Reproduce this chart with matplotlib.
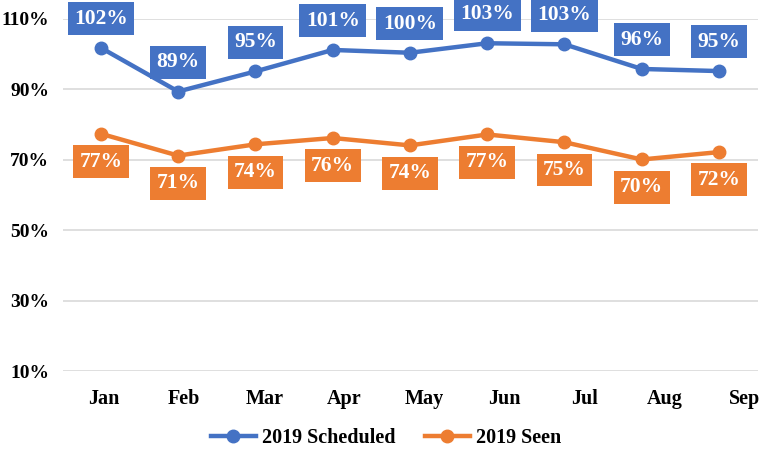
import matplotlib
matplotlib.use("Agg")
import matplotlib.pyplot as plt
import numpy as np

months = ["Jan", "Feb", "Mar", "Apr", "May", "Jun", "Jul", "Aug", "Sep"]
scheduled = [101.8, 89.4, 95.1, 101.2, 100.4, 103.1, 102.8, 95.8, 95.2]
seen = [77.4, 71.2, 74.4, 76.2, 74.1, 77.2, 75.0, 70.1, 72.2]
yticks = [10, 30, 50, 70, 90, 110]

blue = "#4472C4"
orange = "#ED7D31"
font = "Liberation Serif"

fig = plt.figure(figsize=(7.63, 4.51), dpi=100)
ax = fig.add_axes([0.0826, 0.177, 0.9104, 0.781])
x = np.arange(len(months))

ax.plot(x, scheduled, color=blue, lw=3.2, marker="o", ms=9, label="2019 Scheduled", zorder=3)
ax.plot(x, seen, color=orange, lw=3.2, marker="o", ms=9, label="2019 Seen", zorder=3)

for xi, v in zip(x, scheduled):
    ax.annotate(f"{round(v)}%", (xi, v), xytext=(0, 21), textcoords="offset points",
                ha="center", va="center", color="white", fontsize=15.5, fontweight="bold",
                family=font, annotation_clip=False, zorder=4,
                bbox=dict(boxstyle="square,pad=0.3", fc=blue, ec="none"))
for xi, v in zip(x, seen):
    ax.annotate(f"{round(v)}%", (xi, v), xytext=(0, -20), textcoords="offset points",
                ha="center", va="center", color="white", fontsize=15.5, fontweight="bold",
                family=font, annotation_clip=False, zorder=4,
                bbox=dict(boxstyle="square,pad=0.3", fc=orange, ec="none"))

ax.set_xlim(-0.49, 8.5)
ax.set_ylim(10, 110)
ax.set_yticks(yticks)
ax.set_yticklabels([f"{t}%" for t in yticks], family=font, fontweight="bold", fontsize=14)
ax.set_xticks(0.04 + 1.037 * x)
ax.set_xticklabels(months, family=font, fontweight="bold", fontsize=14.5)
ax.tick_params(axis="both", length=0)
ax.tick_params(axis="y", pad=10)
ax.tick_params(axis="x", pad=13)
ax.yaxis.grid(True, color="#D9D9D9", lw=1.2)
ax.set_axisbelow(True)
for s in ax.spines.values():
    s.set_visible(False)

leg = fig.legend(loc="center", bbox_to_anchor=(0.506, 0.028), ncol=2, frameon=False,
                 prop=dict(family=font, weight="bold", size=14.5), handlelength=2.2,
                 columnspacing=1.5, handletextpad=0.3)

fig.savefig("out.png", dpi=100)
